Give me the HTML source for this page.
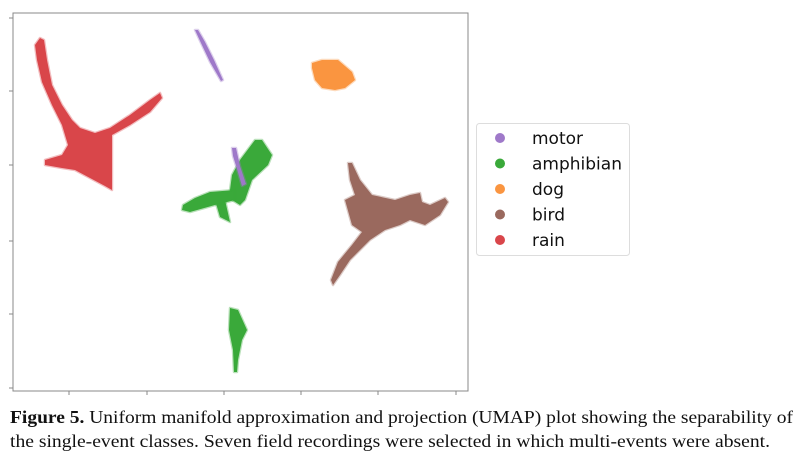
<!DOCTYPE html>
<html><head><meta charset="utf-8"><style>
body{margin:0;background:#fff;width:807px;height:466px;overflow:hidden}
svg{display:block}
</style></head><body>
<svg id="chart" width="807" height="466">
<rect x="13" y="13" width="455" height="378" fill="#fff" stroke="#888" stroke-width="1"/>
<g id="ticks"></g>
<g id="marks"></g>
<g>
<rect x="476.5" y="123.5" width="153" height="132" rx="3" fill="#fff" stroke="#ddd"/>
<g id="legend"></g>
</g>
<text x="10" y="423" font-family="'Liberation Serif',serif" font-size="17.5" fill="#111" textLength="783" lengthAdjust="spacingAndGlyphs"><tspan font-weight="bold">Figure 5.</tspan> Uniform manifold approximation and projection (UMAP) plot showing the separability of</text>
<text x="10" y="447" font-family="'Liberation Serif',serif" font-size="17.5" fill="#111" textLength="760" lengthAdjust="spacingAndGlyphs">the single-event classes. Seven field recordings were selected in which multi-events were absent.</text>
</svg>
<script>
const classNames=["motor","amphibian","dog","bird","rain"];
const classColors=["#9f79c9","#3aa93a","#fa9540","#9a695e","#d9464a"];
const xTicks=[56,134,211,288,365,443];
const yTicks=[0,74,147,223,297,370];
// cluster outlines in UMAP units [x, y]
const rainShapes=[
 [[27,353],[31,351],[34,331],[39,306],[49,286],[59,271],[67,263],[82,258],[97,263],[117,276],[137,291],[147,298],[149,293],[137,279],[117,266],[99,256],[99,246],[99,226],[99,201],[92,205],[77,213],[62,221],[49,223],[32,226],[32,231],[49,236],[55,246],[49,266],[39,286],[29,309],[24,331],[22,346]]];
const motorShapes=[
 [[182,361],[185,361],[192,349],[201,331],[210,311],[208,310],[197,329],[188,348]],
 [[219,243],[223,243],[227,225],[233,207],[229,205],[224,222],[220,235]]];
const ampShapes=[
 [[242,251],[249,251],[259,236],[255,226],[239,211],[232,191],[227,186],[219,191],[217,201],[219,216],[227,231]],
 [[202,191],[212,191],[217,169],[207,174]],
 [[170,186],[182,193],[197,199],[222,201],[222,191],[202,186],[177,179],[169,181]],
 [[217,83],[225,81],[234,61],[229,51],[225,31],[224,19],[221,19],[220,41],[216,61]]];
const dogShapes=[
 [[299,328],[309,331],[325,331],[339,319],[342,311],[332,303],[322,301],[309,303],[302,311],[299,323]]];
const birdShapes=[
 [[335,228],[339,228],[347,211],[359,196],[382,191],[397,196],[407,198],[409,189],[417,186],[432,193],[435,189],[427,176],[412,166],[397,171],[387,166],[372,161],[357,151],[337,131],[327,116],[320,106],[318,111],[325,129],[339,146],[349,159],[339,166],[332,191],[342,196],[337,211]]];
const allShapes=[motorShapes,ampShapes,dogShapes,birdShapes,rainShapes];
const drawOrder=[4,3,2,1,0];
const xScale=v=>13+v;
const yScale=v=>391-v;
const NS="http://www.w3.org/2000/svg";
const ticks=document.getElementById('ticks');
xTicks.forEach(t=>{const l=document.createElementNS(NS,'line');


l.setAttribute('x1',xScale(t));l.setAttribute('x2',xScale(t));l.setAttribute('y1',391);l.setAttribute('y2',395);l.setAttribute('stroke','#888');ticks.appendChild(l);});
yTicks.forEach(t=>{const l=document.createElementNS(NS,'line');


l.setAttribute('x1',9);l.setAttribute('x2',13);l.setAttribute('y1',yScale(t+3));l.setAttribute('y2',yScale(t+3));l.setAttribute('stroke','#888');ticks.appendChild(l);});
const marks=document.getElementById('marks');
drawOrder.forEach(ci=>{
 allShapes[ci].forEach(s=>{
  const p=document.createElementNS(NS,'polygon');
  
  
  p.setAttribute('points',s.map(q=>xScale(q[0])+','+yScale(q[1])).join(' '));
  p.setAttribute('fill',classColors[ci]);
  p.setAttribute('stroke',classColors[ci]);p.setAttribute('stroke-opacity','0.35');
  p.setAttribute('stroke-width','2.5');p.setAttribute('stroke-linejoin','round');
  marks.appendChild(p);
 });
});
const lg=document.getElementById('legend');
classNames.forEach((n,i)=>{const y=138+i*25.5;
 const c=document.createElementNS(NS,'circle');
 
 
 c.setAttribute('cx',500);c.setAttribute('cy',y);c.setAttribute('r',5);c.setAttribute('fill',classColors[i]);lg.appendChild(c);
 const t=document.createElementNS(NS,'text');
 
 
 t.setAttribute('x',532);t.setAttribute('y',y+6);t.setAttribute('font-size','17');t.setAttribute('fill','#111');
 t.setAttribute('font-family','"DejaVu Sans",sans-serif');t.textContent=n;lg.appendChild(t);});
</script>
</body></html>
